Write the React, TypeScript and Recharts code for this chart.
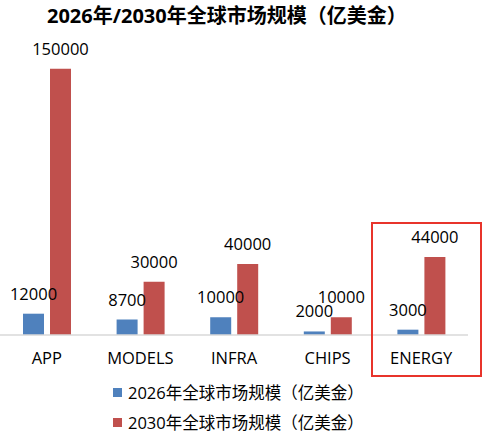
import React from 'react';
import { BarChart, Bar, XAxis, YAxis, Legend, LabelList } from 'recharts';

const categories = ['APP', 'MODELS', 'INFRA', 'CHIPS', 'ENERGY'];
const size2026 = [12000, 8700, 10000, 2000, 3000];
const size2030 = [150000, 30000, 40000, 10000, 44000];

const SERIES_2026 = '2026年全球市场规模（亿美金）';
const SERIES_2030 = '2030年全球市场规模（亿美金）';

const data = categories.map((name, i) => ({
  name,
  [SERIES_2026]: size2026[i],
  [SERIES_2030]: size2030[i],
}));

// Latin glyphs from Open Sans, CJK falls back to Noto
const FONT = '"Open Sans", "Noto Sans CJK SC", sans-serif';
const BLUE = '#4F81BD';
const RED = '#C0504D';

const renderLegend = (props: any) => {
  const { payload } = props;
  return (
    <div style={{ fontFamily: FONT }}>
      {payload.map((entry: any) => (
        <div key={entry.value} style={{ display: 'flex', alignItems: 'center', height: 30 }}>
          <span style={{ width: 9, height: 9, background: entry.color, marginRight: 6, display: 'inline-block' }} />
          <span style={{ fontSize: 16.5, color: '#000' }}>{entry.value}</span>
        </div>
      ))}
    </div>
  );
};

export default function App() {
  return (
    <div style={{ position: 'absolute', left: 0, top: 0, width: 494, height: 444, background: '#fff', fontFamily: FONT }}>
      <div style={{ position: 'absolute', left: 47, top: 4, fontSize: 20, fontWeight: 'bold', lineHeight: '24px', color: '#000', whiteSpace: 'nowrap' }}>
        2026年/2030年全球市场规模（亿美金）
      </div>
      <BarChart
        width={494}
        height={444}
        data={data}
        margin={{ top: 51, right: 26, left: 0, bottom: 79 }}
        barSize={21}
        barGap={6}
        style={{ fontFamily: FONT }}
      >
        <XAxis
          dataKey="name"
          height={30}
          axisLine={{ stroke: '#D9D9D9', strokeWidth: 1.5 }}
          tickLine={false}
          tickMargin={11}
          tick={{ fontSize: 16.5, fill: '#000' }}
          interval={0}
        />
        <YAxis hide domain={[0, 160000]} />
        <Legend
          layout="vertical"
          align="center"
          verticalAlign="middle"
          content={renderLegend}
          wrapperStyle={{ position: 'absolute', left: 113, top: 377, width: 320 }}
        />
        <Bar dataKey={SERIES_2026} fill={BLUE} isAnimationActive={false}>
          <LabelList dataKey={SERIES_2026} position="top" offset={14} style={{ fontSize: 16.5, fill: '#000' }} />
        </Bar>
        <Bar dataKey={SERIES_2030} fill={RED} isAnimationActive={false}>
          <LabelList dataKey={SERIES_2030} position="top" offset={14} style={{ fontSize: 16.5, fill: '#000' }} />
        </Bar>
      </BarChart>
      <div style={{ position: 'absolute', left: 371, top: 222, width: 107, height: 151, border: '2.5px solid #E8342B', pointerEvents: 'none' }} />
    </div>
  );
}
